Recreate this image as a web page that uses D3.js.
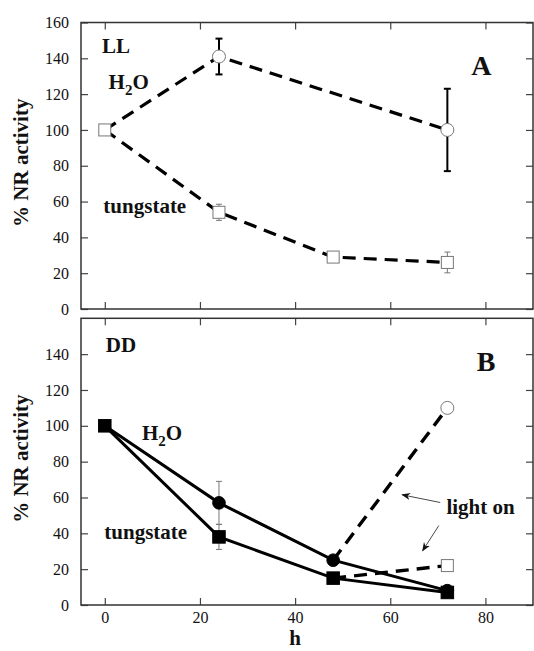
<!DOCTYPE html>
<html lang="en">
<head>
    <meta charset="UTF-8">
    <title>NR activity LL / DD</title>
    <script src="https://d3js.org/d3.v7.min.js"></script>
    <style>
        body { margin: 0; background: #fff; }
        svg text { font-family: "Liberation Serif", "Times New Roman", serif; }
        .tick text { font-size: 16px; fill: #111; }
        .tick line { stroke: #444; stroke-width: 1.2; }
        .lbl { font-weight: bold; fill: #111; }
    </style>
</head>
<body>
    <div id="chart"></div>
    <script>
        // panel A, continuous light (LL)
        const llWaterHours = [0, 24, 72];
        const llWaterValues = [100, 141, 100];
        const llWaterErr = [0, 10, 23];
        const llTungHours = [0, 24, 48, 72];
        const llTungValues = [100, 54, 29, 26];
        const llTungErr = [0, 4.5, 0, 5.8];

        // panel B, continuous dark (DD)
        const ddHours = [0, 24, 48, 72];
        const ddWaterValues = [100, 57, 25, 8];
        const ddWaterErr = [0, 12, 0, 0];
        const ddTungValues = [100, 38, 15, 7];
        const ddTungErr = [0, 7, 0, 0];

        // back to light after 48 h
        const lightHours = [48, 72];
        const lightWaterValues = [25, 110];
        const lightTungValues = [15, 22];

        const xTicks = [0, 20, 40, 60, 80];
        const yTicksA = [0, 20, 40, 60, 80, 100, 120, 140, 160];
        const yTicksB = [0, 20, 40, 60, 80, 100, 120, 140];

        const width = 534;
        const height = 651;
        const svg = d3.select('#chart').append('svg')
            .attr('width', width)
            .attr('height', height);

        const defs = svg.append('defs');
        defs.append('marker')
            .attr('id', 'arrow')
            .attr('viewBox', '0 0 10 10')
            .attr('refX', 9).attr('refY', 5)
            .attr('markerWidth', 9).attr('markerHeight', 9)
            .attr('markerUnits', 'userSpaceOnUse')
            .attr('orient', 'auto')
            .append('path')
            .attr('d', 'M0,1 L10,5 L0,9 L3,5 Z')
            .attr('fill', '#111');

        const x = d3.scaleLinear().domain([-5, 90]).range([81, 533]);

        const zip = (hs, vs, es) => hs.map((h, i) => ({ h: h, v: vs[i], e: es ? es[i] : 0 }));

        // d3 axes put font-family on the group, drop it so the serif from css applies
        const plain = a => a.attr('font-family', null).attr('font-size', null).select('.domain').remove();

        function drawPanel(y0, y1, yTicks, showX) {
            const y = d3.scaleLinear().domain([0, 160]).range([y1, y0]);
            const g = svg.append('g');

            g.append('g').attr('transform', `translate(${x.range()[0]},0)`)
                .call(d3.axisLeft(y).tickValues(yTicks).tickSizeInner(-7).tickSizeOuter(0).tickPadding(12))
                .call(plain);
            g.append('g').attr('transform', `translate(${x.range()[1]},0)`)
                .call(d3.axisRight(y).tickValues(yTicks).tickSizeInner(-7).tickSizeOuter(0).tickFormat(''))
                .call(plain);
            g.append('g').attr('transform', `translate(0,${y0})`)
                .call(d3.axisTop(x).tickValues(xTicks).tickSizeInner(-7).tickSizeOuter(0).tickFormat(''))
                .call(plain);
            g.append('g').attr('transform', `translate(0,${y1})`)
                .call(d3.axisBottom(x).tickValues(xTicks).tickSizeInner(-7).tickSizeOuter(0).tickPadding(7)
                    .tickFormat(showX ? d3.format('d') : ''))
                .call(plain);

            g.append('rect')
                .attr('x', x.range()[0]).attr('y', y0)
                .attr('width', x.range()[1] - x.range()[0])
                .attr('height', y1 - y0)
                .attr('fill', 'none')
                .attr('stroke', '#333')
                .attr('stroke-width', 1.5);

            svg.append('text')
                .attr('class', 'lbl')
                .attr('transform', `translate(28,${(y0 + y1) / 2 - 3}) rotate(-90)`)
                .attr('text-anchor', 'middle')
                .style('font-size', '21px')
                .text('% NR activity');

            return { g: g, y: y };
        }

        function line(p, pts, dashed, w) {
            p.g.append('path')
                .datum(pts)
                .attr('d', d3.line().x(d => x(d.h)).y(d => p.y(d.v)))
                .attr('fill', 'none')
                .attr('stroke', '#000')
                .attr('stroke-width', w)
                .attr('stroke-dasharray', dashed ? '13,8' : null);
        }

        function errBars(p, pts, color, w, cap) {
            const e = pts.filter(d => d.e > 0);
            const sel = p.g.append('g').attr('stroke', color).attr('stroke-width', w);
            sel.selectAll('.ev').data(e).join('line')
                .attr('x1', d => x(d.h)).attr('x2', d => x(d.h))
                .attr('y1', d => p.y(d.v + d.e)).attr('y2', d => p.y(d.v - d.e));
            sel.selectAll('.et').data(e).join('line')
                .attr('x1', d => x(d.h) - cap).attr('x2', d => x(d.h) + cap)
                .attr('y1', d => p.y(d.v + d.e)).attr('y2', d => p.y(d.v + d.e));
            sel.selectAll('.eb').data(e).join('line')
                .attr('x1', d => x(d.h) - cap).attr('x2', d => x(d.h) + cap)
                .attr('y1', d => p.y(d.v - d.e)).attr('y2', d => p.y(d.v - d.e));
        }

        function circles(p, pts, filled, r) {
            p.g.append('g').selectAll('circle').data(pts).join('circle')
                .attr('cx', d => x(d.h)).attr('cy', d => p.y(d.v))
                .attr('r', r)
                .attr('fill', filled ? '#000' : '#fff')
                .attr('stroke', filled ? '#000' : '#777')
                .attr('stroke-width', 1);
        }

        function squares(p, pts, filled, s) {
            p.g.append('g').selectAll('rect').data(pts).join('rect')
                .attr('x', d => x(d.h) - s / 2).attr('y', d => p.y(d.v) - s / 2)
                .attr('width', s).attr('height', s)
                .attr('fill', filled ? '#000' : '#fff')
                .attr('stroke', filled ? '#000' : '#777')
                .attr('stroke-width', 1);
        }

        function label(p, h, v, txt, size, anchor) {
            const t = p.g.append('text')
                .attr('class', 'lbl')
                .attr('x', x(h)).attr('y', p.y(v))
                .attr('text-anchor', anchor || 'start')
                .style('font-size', size + 'px');
            if (txt === 'H2O') {
                t.append('tspan').text('H');
                t.append('tspan').attr('dy', 6).style('font-size', (size - 6) + 'px').text('2');
                t.append('tspan').attr('dy', -6).text('O');
            } else {
                t.text(txt);
            }
        }

        function arrow(p, from, to) {
            p.g.append('line')
                .attr('x1', x(from[0])).attr('y1', p.y(from[1]))
                .attr('x2', x(to[0])).attr('y2', p.y(to[1]))
                .attr('stroke', '#333')
                .attr('stroke-width', 0.9)
                .attr('marker-end', 'url(#arrow)');
        }

        // ---- panel A
        const A = drawPanel(22.5, 309, yTicksA, false);
        const aWater = zip(llWaterHours, llWaterValues, llWaterErr);
        const aTung = zip(llTungHours, llTungValues, llTungErr);
        line(A, aWater, true, 3.2);
        line(A, aTung, true, 3.2);
        errBars(A, aWater, '#000', 2, 3.5);
        errBars(A, aTung, '#777', 1, 3);
        circles(A, aWater.slice(1), false, 6.5);
        squares(A, aTung, false, 12);
        label(A, -0.6, 143, 'LL', 21);
        label(A, 0.8, 123, 'H2O', 21);
        label(A, -0.3, 53.5, 'tungstate', 21);
        label(A, 77, 130.5, 'A', 28);

        // ---- panel B
        const B = drawPanel(318.3, 605, yTicksB, true);
        const bWater = zip(ddHours, ddWaterValues, ddWaterErr);
        const bTung = zip(ddHours, ddTungValues, ddTungErr);
        const lWater = zip(lightHours, lightWaterValues);
        const lTung = zip(lightHours, lightTungValues);
        line(B, lWater, true, 3.4);
        line(B, lTung, true, 3.4);
        errBars(B, bWater, '#777', 1, 3);
        errBars(B, bTung, '#777', 1, 3);
        line(B, bWater, false, 3);
        line(B, bTung, false, 3);
        circles(B, bWater.slice(1), true, 6.3);
        squares(B, bTung, true, 12.5);
        circles(B, lWater.slice(1), false, 6.5);
        squares(B, lTung.slice(1), false, 12);
        label(B, 0.2, 141, 'DD', 21);
        label(B, 7.8, 92, 'H2O', 21);
        label(B, -0.1, 37, 'tungstate', 21);
        label(B, 78.2, 130.5, 'B', 28);
        label(B, 71.8, 51, 'light on', 21);
        arrow(B, [70.5, 57.2], [62.5, 61.5]);
        arrow(B, [70.2, 44.3], [66.8, 30.3]);

        // x axis title
        svg.append('text')
            .attr('class', 'lbl')
            .attr('x', x(40)).attr('y', 645)
            .attr('text-anchor', 'middle')
            .style('font-size', '21px')
            .text('h');
    </script>
</body>
</html>
